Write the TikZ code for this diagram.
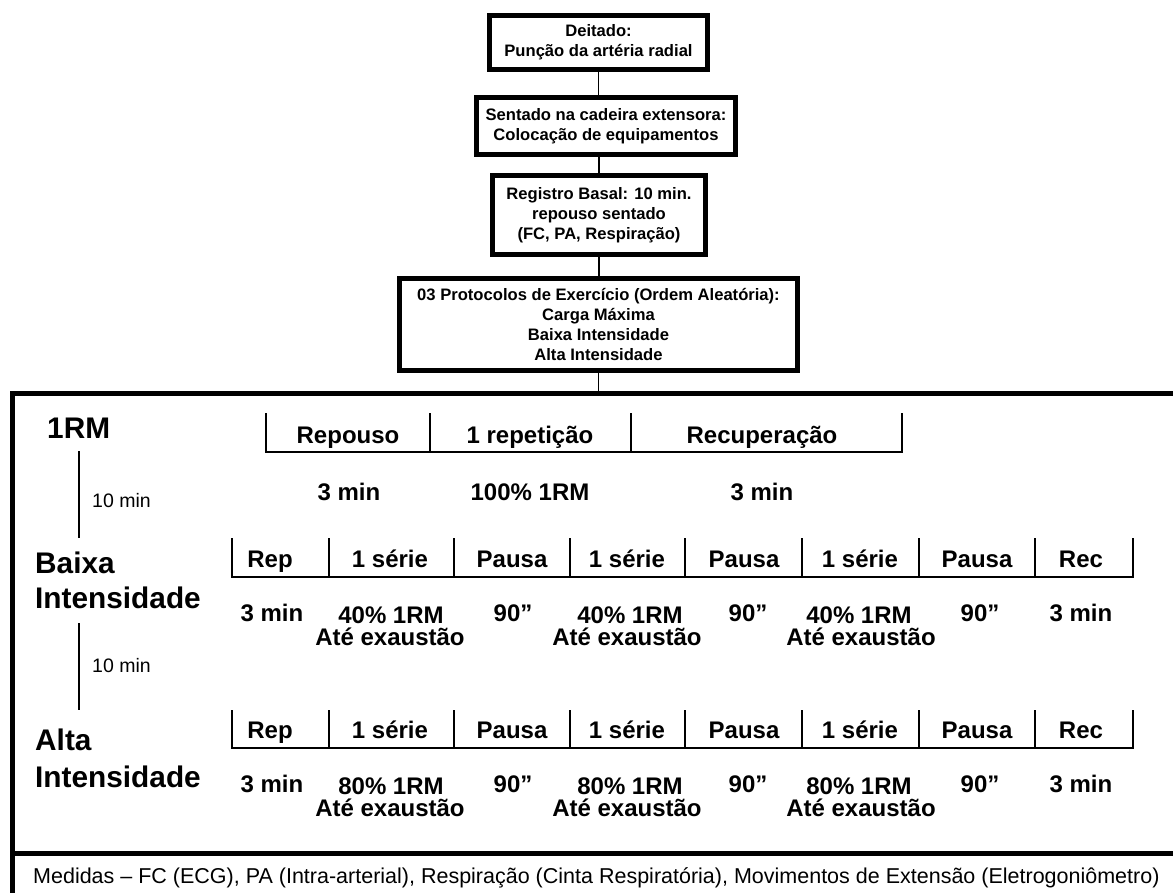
\documentclass[tikz,border=0pt]{standalone}
\usepackage{fontspec}
\setmainfont{Liberation Sans}
\newcommand\bxfont{\fontsize{16.6}{19.8}\selectfont\bfseries}
\newcommand\tbfont{\fontsize{24}{28}\selectfont\bfseries}
\newcommand\hdfont{\fontsize{29.8}{34}\selectfont\bfseries}
\newcommand\smfont{\fontsize{19.5}{23}\selectfont}
\newcommand\mdfont{\fontsize{21.5}{25}\selectfont}
\begin{document}
\begin{tikzpicture}[x=1pt,y=-1pt,
  box/.style={draw, line width=5pt, align=center, font=\bxfont, inner sep=0pt},
  conn/.style={line width=1.3pt},
  tline/.style={line width=1.3pt},
  frame/.style={line width=5pt},
  lab/.style={anchor=base, font=\tbfont, inner sep=0pt},
  hd/.style={anchor=base west, font=\hdfont, inner sep=0pt},
  sm/.style={anchor=base west, font=\smfont, inner sep=0pt},
  md/.style={anchor=base west, font=\mdfont, inner sep=0pt}]
\useasboundingbox (0,0) rectangle (1173,892);
\clip (0,0) rectangle (1173,892);

% top flow boxes
\node[box, minimum width=218pt, minimum height=54pt] (b1) at (598.5,42.5) {Deitado:\\Punção da artéria radial};
\node[box, minimum width=259pt, minimum height=57pt] (b2) at (606,126) {Sentado na cadeira extensora:\\Colocação de equipamentos};
\node[box, minimum width=213pt, minimum height=79pt] (b3) at (599,215) {Registro Basal: 10 min.\\repouso sentado\\(FC, PA, Respiração)};
\node[box, minimum width=398pt, minimum height=92pt] (b4) at (598.5,324.5) {03 Protocolos de Exercício (Ordem Aleatória):\\Carga Máxima\\Baixa Intensidade\\Alta Intensidade};
\coordinate (ftop) at (597,393);

\draw[conn] (b1.south) -- (b1.south |- b2.north);
\draw[conn] (b3.north) -- (b3.north |- b2.south);
\draw[conn] (b3.south) -- (b3.south |- b4.north);
\draw[conn] (b4.south) -- (b4.south |- ftop);

% big frame
\draw[frame] (12,1000) -- (12,393) -- (1200,393);
\draw[frame] (12,853) -- (1200,853);

% row headings
\node[hd] (h1) at (47,438) {1RM};
\node[hd] (h2a) at (35,573) {Baixa};
\node[hd] (h2b) at (35,608) {Intensidade};
\node[hd] (h3a) at (35,750) {Alta};
\node[hd] (h3b) at (35,787) {Intensidade};

% timeline connectors
\coordinate (t1a) at (79,451); \coordinate (t1b) at (79,538);
\coordinate (t2a) at (79,623); \coordinate (t2b) at (79,710);
\draw[conn] (t1a) -- (t1b);
\draw[conn] (t2a) -- (t2b);
\node[sm] (m1) at (92,507) {10 min};
\node[sm] (m2) at (92,672) {10 min};

% 1RM table
\draw[tline] (266,413) -- (266,452) -- (902,452) -- (902,413);
\foreach \x in {430,631} \draw[tline] (\x,413) -- (\x,452);
\node[lab] (r1) at (348,443) {Repouso};
\node[lab] (r2) at (530,443) {1 repetição};
\node[lab] (r3) at (762,443) {Recuperação};
\node[lab] (v1) at (349,500) {3 min};
\node[lab] (v2) at (530,500) {100\% 1RM};
\node[lab] (v3) at (762,500) {3 min};

% Baixa / Alta tables
\foreach \ytop/\ybot in {538/577, 710/748}{
  \draw[tline] (232,\ytop) -- (232,\ybot) -- (1133,\ybot) -- (1133,\ytop);
  \foreach \x in {329,454,570,685,802,919,1035} \draw[tline] (\x,\ytop) -- (\x,\ybot);
}
\foreach \t/\x [count=\i] in {Rep/270, 1 série/390, Pausa/512, 1 série/627, Pausa/744, 1 série/860, Pausa/977, Rec/1081}{
  \node[lab] (bl\i) at (\x,567) {\t};
  \node[lab] (al\i) at (\x,738) {\t};
}
% Baixa values
\node[lab] (bv1) at (272,621) {3 min};
\node[lab] (bv2) at (391,623) {40\% 1RM};
\node[lab] (bv2b) at (390,645) {Até exaustão};
\node[lab] (bv3) at (513,621) {90”};
\node[lab] (bv4) at (630,623) {40\% 1RM};
\node[lab] (bv4b) at (627,645) {Até exaustão};
\node[lab] (bv5) at (748,621) {90”};
\node[lab] (bv6) at (859,623) {40\% 1RM};
\node[lab] (bv6b) at (861,645) {Até exaustão};
\node[lab] (bv7) at (980,621) {90”};
\node[lab] (bv8) at (1081,621) {3 min};
% Alta values
\node[lab] (av1) at (272,792) {3 min};
\node[lab] (av2) at (391,794) {80\% 1RM};
\node[lab] (av2b) at (390,816) {Até exaustão};
\node[lab] (av3) at (513,792) {90”};
\node[lab] (av4) at (630,794) {80\% 1RM};
\node[lab] (av4b) at (627,816) {Até exaustão};
\node[lab] (av5) at (748,792) {90”};
\node[lab] (av6) at (859,794) {80\% 1RM};
\node[lab] (av6b) at (861,816) {Até exaustão};
\node[lab] (av7) at (980,792) {90”};
\node[lab] (av8) at (1081,792) {3 min};

% measurements line
\node[md] (med) at (33,883) {Medidas – FC (ECG), PA (Intra-arterial), Respiração (Cinta Respiratória), Movimentos de Extensão (Eletrogoniômetro)};
\end{tikzpicture}
\end{document}
